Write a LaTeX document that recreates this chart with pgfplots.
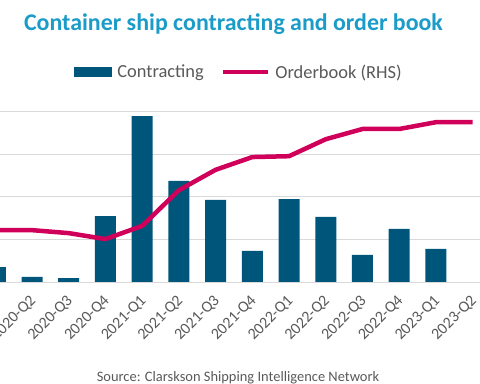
\documentclass[border=0pt]{standalone}
\usepackage{pgfplots}
\pgfplotsset{compat=1.18}
\usepackage{fontspec}
\setmainfont{Carlito}
\definecolor{barblue}{HTML}{00567A}
\definecolor{linered}{HTML}{D0005A}
\definecolor{titleblue}{HTML}{1B9CC8}
\definecolor{txtgray}{HTML}{595959}
\definecolor{gridgray}{HTML}{D9D9D9}
\begin{document}
\begin{tikzpicture}[x=1bp,y=1bp]
\clip (0bp,0bp) rectangle (480bp,384bp);
\begin{axis}[
  at={(0bp,102bp)}, anchor=south west,
  scale only axis, width=480bp, height=170bp,
  xmin=0.128, xmax=13.2, ymin=0, ymax=4,
  axis line style={draw=none},
  ytick={0,1,2,3,4}, yticklabels={},
  ymajorgrids, grid style={gridgray, line width=1bp},
  major tick length=0pt,
  xtick={0,...,13},
  xticklabels={2020-Q1,2020-Q2,2020-Q3,2020-Q4,2021-Q1,2021-Q2,2021-Q3,2021-Q4,2022-Q1,2022-Q2,2022-Q3,2022-Q4,2023-Q1,2023-Q2},
  xticklabel style={xshift=4bp, yshift=-14bp, rotate=45, anchor=east, font=\fontsize{16}{18}\selectfont, text=txtgray},
  legend columns=2,
  legend style={draw=none, fill=none, at={(0.498,1.235)}, anchor=center,
    font=\fontsize{18.5}{20}\selectfont, text=txtgray,
    /tikz/every odd column/.append style={column sep=3bp},
    /tikz/every even column/.append style={column sep=15bp}},
]
\addplot[ybar, bar width=21bp, fill=barblue, draw=none,
  legend image code/.code={\fill[barblue] (0bp,-5bp) rectangle (38bp,5bp);}]
  coordinates {(0,0.35) (1,0.12) (2,0.09) (3,1.55) (4,3.9) (5,2.38) (6,1.93) (7,0.73) (8,1.95) (9,1.53) (10,0.64) (11,1.25) (12,0.78) (13,0)};
\addlegendentry{Contracting}
\addplot[linered, line width=4.5bp, line join=round,
  legend image code/.code={\draw[linered, line width=4.5bp] (0bp,0bp) -- (45bp,0bp);}]
  coordinates {(0,1.22) (1,1.22) (2,1.15) (3,1.01) (4,1.32) (5,2.16) (6,2.64) (7,2.94) (8,2.96) (9,3.36) (10,3.6) (11,3.6) (12,3.76) (13,3.76)};
\addlegendentry{Orderbook (RHS)}
\end{axis}
\node[anchor=base, font=\bfseries\fontsize{24}{28}\selectfont, text=titleblue] at (233.5bp,353bp) {Container ship contracting and order book};
\node[anchor=base, font=\fontsize{14.5}{16}\selectfont, text=txtgray] at (238bp,3bp) {Source: Clarskson Shipping Intelligence Network};
\end{tikzpicture}
\end{document}
